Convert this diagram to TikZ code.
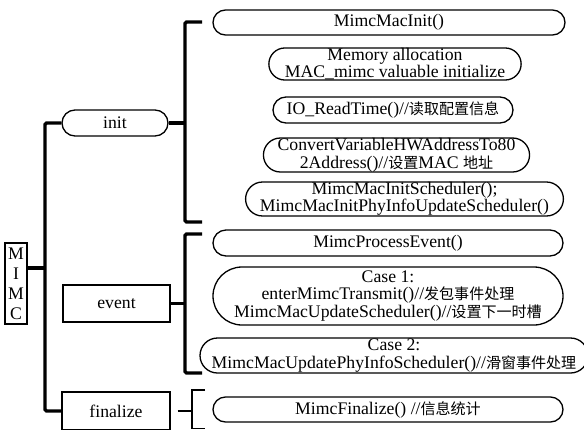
\documentclass[tikz,border=0pt]{standalone}
\usepackage{fontspec}
\setmainfont{Liberation Serif}
\newfontfamily\cjk{Noto Sans CJK SC}[Scale=0.85]
\usetikzlibrary{shapes.misc}
\tikzset{
  txt/.style={inner sep=0pt, align=center, font=\fontsize{17.7}{17.5}\selectfont},
  pill/.style={txt, rounded rectangle, draw, line width=1.3pt},
  boxn/.style={txt, rectangle, draw, line width=1.3pt},
  heavy/.style={line width=3.2pt, rounded corners=1.5pt},
  light/.style={line width=1.3pt},
}
\begin{document}
\begin{tikzpicture}[x=1pt,y=-1pt]
\useasboundingbox (0,0) rectangle (584,429);
% left column
\node[boxn, minimum width=22, minimum height=81, font=\fontsize{17.7}{20}\selectfont] (mimc) at (16,283.5) {M\\I\\M\\C};
\node[pill, minimum width=106, minimum height=26] (init) at (115,123) {init};
\node[boxn, minimum width=107, minimum height=37] (event) at (116.5,303.5) {event};
\node[boxn, minimum width=108, minimum height=38] (fin) at (116,411) {finalize};
% right column
\node[pill, minimum width=352, minimum height=25] (n1) at (389,22.5) {MimcMacInit()};
\node[pill, minimum width=246, minimum height=32] (n2) at (395,64) {Memory allocation\\MAC\_mimc valuable initialize};
\node[pill, minimum width=240, minimum height=26] (n3) at (393,110) {IO\_ReadTime()//{\cjk 读取配置信息}};
\node[pill, minimum width=247, minimum height=34] (n4) at (396.5,155) {ConvertVariableHWAddressTo80\\2Address()//{\cjk 设置}MAC {\cjk 地址}};
\node[pill, minimum width=305, minimum height=34] (n5) at (404.5,199) {MimcMacInitScheduler();\\MimcMacInitPhyInfoUpdateScheduler()};
\node[pill, minimum width=350, minimum height=26] (n6) at (388,243) {MimcProcessEvent()};
\node[pill, minimum width=350, minimum height=58] (n7) at (388,296) {Case 1:\\enterMimcTransmit()//{\cjk 发包事件处理}\\MimcMacUpdateScheduler()//{\cjk 设置下一时槽}};
\node[pill, minimum width=378, minimum height=35] (n8) at (394,355.5) {Case 2:\\MimcMacUpdatePhyInfoScheduler()//{\cjk 滑窗事件处理}};
\node[pill, minimum width=350, minimum height=25] (n9) at (388,409.5) {MimcFinalize() //{\cjk 信息统计}};
% guide coordinates
\coordinate (tx) at (45,0);
\coordinate (bx) at (185,0);
\coordinate (fx) at (192,0);
\coordinate (b1top) at (202,22);
\coordinate (b1bot) at (202,222);
\coordinate (b2top) at (202,234);
\coordinate (b2bot) at (202,373);
\coordinate (b3top) at (205,390);
\coordinate (b3bot) at (205,428.5);
% trunk
\draw[heavy] (init.west) -- (init.west -| tx) |- (fin.west);
\draw[heavy] ([yshift=15.5pt]mimc.east) -- ([yshift=15.5pt]mimc.east -| tx);
% init bracket
\draw[heavy] (init.east) -- (init.east -| bx);
\draw[heavy] (b1top) -| (bx |- b1bot) -- (b1bot);
% event bracket
\draw[heavy] (event.east) -- (event.east -| bx);
\draw[heavy] (b2top) -| (bx |- b2bot) -- (b2bot);
% finalize bracket
\draw[light] ([xshift=7pt]fin.east) -- (fin.east -| fx);
\draw[light] (b3top) -| (fx |- b3bot) -- (b3bot);
\end{tikzpicture}
\end{document}
